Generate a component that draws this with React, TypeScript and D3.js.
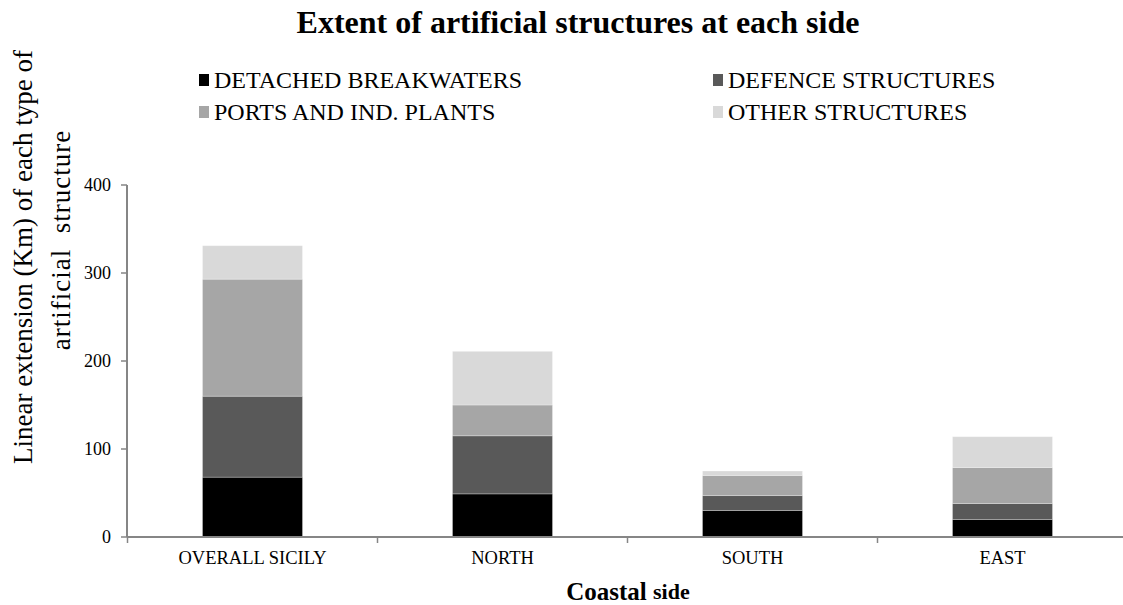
import React from "react";
import * as d3 from "d3";

const categories = ["OVERALL SICILY", "NORTH", "SOUTH", "EAST"];
const seriesNames = ["DETACHED BREAKWATERS", "DEFENCE STRUCTURES", "PORTS AND IND. PLANTS", "OTHER STRUCTURES"];
const detached = [68, 49, 30, 20];
const defence = [92, 66, 17, 18];
const ports = [133, 35, 23, 41];
const other = [38, 61, 5, 35];
const yTicks = [0, 100, 200, 300, 400];
const colors = ["#000000", "#595959", "#a6a6a6", "#d9d9d9"];

const W = 1123;
const H = 605;
const FONT = "'Liberation Serif', 'Times New Roman', serif";

export default function App() {
  const x = d3.scaleBand<string>().domain(categories).range([127.5, 1127.5]).paddingInner(0.6).paddingOuter(0.3);
  const y = d3.scaleLinear().domain([0, 400]).range([537, 185]);

  const rows = categories.map((c, i) => ({
    cat: c,
    "DETACHED BREAKWATERS": detached[i],
    "DEFENCE STRUCTURES": defence[i],
    "PORTS AND IND. PLANTS": ports[i],
    "OTHER STRUCTURES": other[i],
  }));
  const stacked = d3.stack<any>().keys(seriesNames)(rows);

  const legendPos = [
    { x: 199, y: 80 },
    { x: 713, y: 80 },
    { x: 199, y: 112 },
    { x: 713, y: 112 },
  ];

  const tickXs = [0, 1, 2, 3, 4].map((i) => 127.5 + i * x.step());

  return (
    <svg width={W} height={H} style={{ position: "absolute", left: 0, top: 0, background: "#fff" }} fontFamily={FONT}>
      <rect x={0} y={0} width={W} height={H} fill="#fff" />
      <text x={578} y={22} textAnchor="middle" dominantBaseline="central" fontSize={32} fontWeight="bold" fill="#000">
        Extent of artificial structures at each side
      </text>

      {seriesNames.map((s, i) => (
        <g key={s}>
          <rect x={legendPos[i].x} y={legendPos[i].y - 6} width={10} height={12} fill={colors[i]} />
          <text x={legendPos[i].x + 15} y={legendPos[i].y} dominantBaseline="central" fontSize={24} fill="#000">
            {s}
          </text>
        </g>
      ))}

      {stacked.map((layer, li) => (
        <g key={li} fill={colors[li]}>
          {layer.map((d: any, j: number) => (
            <rect
              key={j}
              x={x(categories[j])}
              y={y(d[1])}
              width={x.bandwidth()}
              height={y(d[0]) - y(d[1])}
              stroke="#ffffff"
              strokeOpacity={0.35}
              strokeWidth={0.8}
            />
          ))}
        </g>
      ))}

      {/* y axis */}
      <line x1={127} x2={127} y1={185} y2={537} stroke="#868686" strokeWidth={2} />
      {yTicks.map((t) => (
        <g key={t}>
          <line x1={121} x2={127} y1={y(t)} y2={y(t)} stroke="#868686" strokeWidth={1.5} />
          <text x={111} y={y(t)} textAnchor="end" dominantBaseline="central" fontSize={18} fill="#000">
            {t}
          </text>
        </g>
      ))}

      {/* x axis */}
      <line x1={127} x2={W} y1={537} y2={537} stroke="#868686" strokeWidth={2} />
      {tickXs.map((tx, i) => (
        <line key={i} x1={tx} x2={tx} y1={537} y2={543} stroke="#868686" strokeWidth={1.5} />
      ))}
      {categories.map((c) => (
        <text key={c} x={(x(c) as number) + x.bandwidth() / 2} y={558} textAnchor="middle" dominantBaseline="central" fontSize={18.5} fill="#000">
          {c}
        </text>
      ))}

      <text x={628} y={591} textAnchor="middle" dominantBaseline="central" fontWeight="bold" fill="#000">
        <tspan fontSize={25}>Coastal </tspan>
        <tspan fontSize={22}>side</tspan>
      </text>

      <g transform="translate(23,257) rotate(-90)">
        <text x={0} y={0} textAnchor="middle" dominantBaseline="central" fontSize={27} fill="#000">
          Linear extension (Km) of each type of
        </text>
      </g>
      <g transform="translate(61,240) rotate(-90)">
        <text x={0} y={0} textAnchor="middle" dominantBaseline="central" fontSize={27} letterSpacing={1} fill="#000" style={{ whiteSpace: "pre" }}>
          {"artificial  structure"}
        </text>
      </g>
    </svg>
  );
}
